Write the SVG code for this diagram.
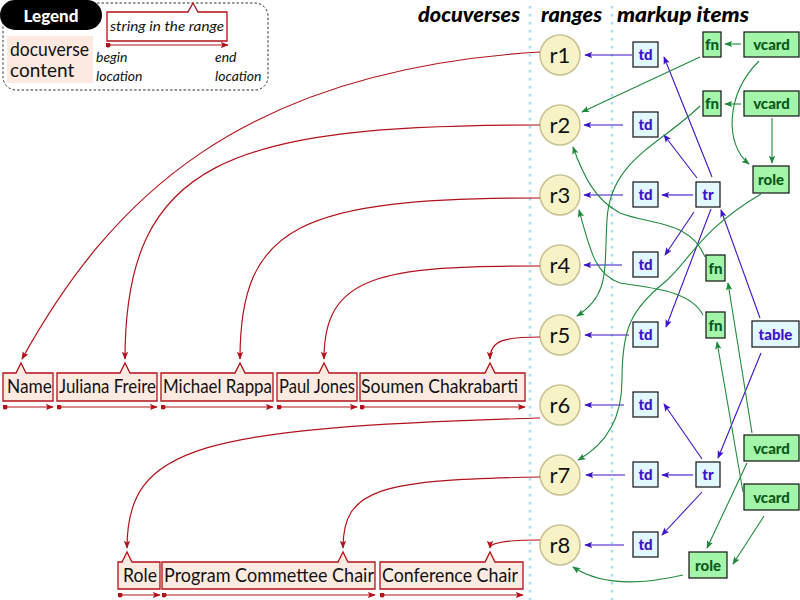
<svg xmlns="http://www.w3.org/2000/svg" width="800" height="600" viewBox="0 0 800 600">
<style>
.red{stroke:#b3121a;fill:none;stroke-width:1.2}
.blue{stroke:#3c14c8;fill:none;stroke-width:1.1}
.green{stroke:#1f8a3c;fill:none;stroke-width:1.1}
.seg{fill:#fdebe2;stroke:#b3121a;stroke-width:1.3}
.segt{font-family:Lato,"Open Sans",sans-serif;font-size:19px;fill:#111}
.rc{fill:#f8f3c6;stroke:#c9c191;stroke-width:1.5}
.rt{font-family:Lato,"Open Sans",sans-serif;font-size:22px;fill:#111;text-anchor:middle}
.bb{fill:#e2f8ff;stroke:#111;stroke-width:1.2}
.bt{font-family:Lato,"Open Sans",sans-serif;font-weight:900;font-size:15px;fill:#3c14c8;text-anchor:middle}
.gb{fill:#a3f5a9;stroke:#111;stroke-width:1.2}
.gt{font-family:Lato,"Open Sans",sans-serif;font-weight:900;font-size:15px;fill:#0b5a1c;text-anchor:middle}
.hd{font-family:Lato,"Open Sans",sans-serif;font-weight:900;font-style:italic;font-size:20px;fill:#000}
.it{font-family:Lato,"Open Sans",sans-serif;font-style:italic;font-size:14px;fill:#111}
.dot{stroke:#a9dcf2;stroke-width:2.5;stroke-dasharray:2.5 5.5;fill:none}
</style>
<defs>
<marker id="ar" viewBox="0 0 10 10" refX="9" refY="5" markerWidth="8" markerHeight="8" markerUnits="userSpaceOnUse" orient="auto"><path d="M0,1 L10,5 L0,9 L2,5 z" fill="#b3121a"/></marker>
<marker id="ab" viewBox="0 0 10 10" refX="9" refY="5" markerWidth="8" markerHeight="8" markerUnits="userSpaceOnUse" orient="auto"><path d="M0,1 L10,5 L0,9 L2,5 z" fill="#3c14c8"/></marker>
<marker id="ag" viewBox="0 0 10 10" refX="9" refY="5" markerWidth="8" markerHeight="8" markerUnits="userSpaceOnUse" orient="auto"><path d="M0,1 L10,5 L0,9 L2,5 z" fill="#1f8a3c"/></marker>
<marker id="dt" viewBox="0 0 6 6" refX="3" refY="3" markerWidth="5" markerHeight="5" markerUnits="userSpaceOnUse"><circle cx="3" cy="3" r="3" fill="#b3121a"/></marker>
</defs>
<rect width="800" height="600" fill="#fff"/>

<!-- dotted column separators -->
<line class="dot" x1="530" y1="6" x2="530" y2="600"/>
<line class="dot" x1="612" y1="6" x2="612" y2="600"/>

<!-- legend -->
<g id="legend">
<rect x="3" y="3" width="265" height="87" rx="13" fill="none" stroke="#333" stroke-width="1" stroke-dasharray="2.5 2"/>
<rect x="0" y="0" width="102" height="30" rx="15" fill="#000"/>
<text x="51" y="22" font-family="Lato,'Open Sans',sans-serif" font-weight="900" font-size="17" fill="#fff" text-anchor="middle">Legend</text>
<rect x="7" y="36" width="86" height="47" fill="#fde9df"/>
<text x="10" y="56" class="segt" textLength="79" lengthAdjust="spacingAndGlyphs">docuverse</text>
<text x="10" y="77" class="segt">content</text>
<path class="seg" d="M107,12 H188 L193,3 L198,12 H227 V41 H107 Z" style="fill:#fff"/>
<text x="110" y="31" class="it" textLength="114" lengthAdjust="spacingAndGlyphs">string in the range</text>
<line class="red" x1="108" y1="45" x2="228" y2="45" marker-start="url(#dt)" marker-end="url(#ar)"/>
<text x="96" y="62" class="it">begin</text>
<text x="96" y="81" class="it">location</text>
<text x="215" y="62" class="it">end</text>
<text x="215" y="81" class="it">location</text>
</g>

<!-- headers -->
<text x="418" y="22" class="hd" textLength="102" lengthAdjust="spacingAndGlyphs">docuverses</text>
<text x="541" y="22" class="hd" textLength="61" lengthAdjust="spacingAndGlyphs">ranges</text>
<text x="617" y="22" class="hd" textLength="132" lengthAdjust="spacingAndGlyphs">markup items</text>

<!-- docuverse segments -->
<g id="seg-name"><path class="seg" d="M3,373 H16 L21,363 L26,373 H53 V401 H3 Z"/><text x="7" y="393" class="segt" textLength="45" lengthAdjust="spacingAndGlyphs">Name</text></g>
<g id="seg-juliana"><path class="seg" d="M57,373 H120 L125,363 L130,373 H157 V401 H57 Z"/><text x="59" y="393" class="segt" textLength="97" lengthAdjust="spacingAndGlyphs">Juliana Freire</text></g>
<g id="seg-michael"><path class="seg" d="M161,373 H235 L240,363 L245,373 H273 V401 H161 Z"/><text x="163" y="393" class="segt" textLength="109" lengthAdjust="spacingAndGlyphs">Michael Rappa</text></g>
<g id="seg-paul"><path class="seg" d="M277,373 H319 L324,363 L329,373 H357 V401 H277 Z"/><text x="279" y="393" class="segt" textLength="76" lengthAdjust="spacingAndGlyphs">Paul Jones</text></g>
<g id="seg-soumen"><path class="seg" d="M360,373 H485 L490,363 L495,373 H525 V401 H360 Z"/><text x="361" y="393" class="segt" textLength="157" lengthAdjust="spacingAndGlyphs">Soumen Chakrabarti</text></g>
<g id="seg-role"><path class="seg" d="M118,562 H122 L127,552 L132,562 H160 V589 H118 Z"/><text x="123" y="582" class="segt" textLength="34" lengthAdjust="spacingAndGlyphs">Role</text></g>
<g id="seg-program"><path class="seg" d="M162,562 H338 L343,552 L348,562 H375 V589 H162 Z"/><text x="164" y="582" class="segt" textLength="210" lengthAdjust="spacingAndGlyphs">Program Commettee Chair</text></g>
<g id="seg-conference"><path class="seg" d="M380,562 H485 L490,552 L495,562 H523 V589 H380 Z"/><text x="382" y="582" class="segt" textLength="136" lengthAdjust="spacingAndGlyphs">Conference Chair</text></g>

<!-- range nodes -->
<g id="r1"><circle class="rc" cx="560" cy="55" r="20"/><text x="560" y="63" class="rt">r1</text></g>
<g id="r2"><circle class="rc" cx="560" cy="125" r="20"/><text x="560" y="133" class="rt">r2</text></g>
<g id="r3"><circle class="rc" cx="560" cy="195" r="20"/><text x="560" y="203" class="rt">r3</text></g>
<g id="r4"><circle class="rc" cx="560" cy="265" r="20"/><text x="560" y="273" class="rt">r4</text></g>
<g id="r5"><circle class="rc" cx="560" cy="335" r="20"/><text x="560" y="343" class="rt">r5</text></g>
<g id="r6"><circle class="rc" cx="560" cy="405" r="20"/><text x="560" y="413" class="rt">r6</text></g>
<g id="r7"><circle class="rc" cx="560" cy="475" r="20"/><text x="560" y="483" class="rt">r7</text></g>
<g id="r8"><circle class="rc" cx="560" cy="545" r="20"/><text x="560" y="553" class="rt">r8</text></g>

<!-- markup items -->
<g id="td1"><rect class="bb" x="633" y="42" width="25" height="25"/><text x="645.5" y="60" class="bt">td</text></g>
<g id="td2"><rect class="bb" x="633" y="112" width="25" height="25"/><text x="645.5" y="130" class="bt">td</text></g>
<g id="td3"><rect class="bb" x="633" y="182" width="25" height="25"/><text x="645.5" y="200" class="bt">td</text></g>
<g id="td4"><rect class="bb" x="633" y="252" width="25" height="25"/><text x="645.5" y="270" class="bt">td</text></g>
<g id="td5"><rect class="bb" x="633" y="322" width="25" height="25"/><text x="645.5" y="340" class="bt">td</text></g>
<g id="td6"><rect class="bb" x="633" y="392" width="25" height="25"/><text x="645.5" y="410" class="bt">td</text></g>
<g id="td7"><rect class="bb" x="633" y="462" width="25" height="25"/><text x="645.5" y="480" class="bt">td</text></g>
<g id="td8"><rect class="bb" x="633" y="532" width="25" height="25"/><text x="645.5" y="550" class="bt">td</text></g>
<g id="tr1"><rect class="bb" x="696" y="182" width="24" height="25"/><text x="708" y="200" class="bt">tr</text></g>
<g id="tr2"><rect class="bb" x="696" y="462" width="24" height="25"/><text x="708" y="480" class="bt">tr</text></g>
<g id="table"><rect class="bb" x="752" y="321" width="47" height="26"/><text x="775.5" y="339.5" class="bt">table</text></g>
<g id="fn1"><rect class="gb" x="703" y="32" width="18" height="25"/><text x="712" y="50" class="gt">fn</text></g>
<g id="fn2"><rect class="gb" x="703" y="91" width="18" height="25"/><text x="712" y="109" class="gt">fn</text></g>
<g id="fn3"><rect class="gb" x="706" y="255" width="19" height="26"/><text x="715.5" y="273.5" class="gt">fn</text></g>
<g id="fn4"><rect class="gb" x="706" y="312" width="19" height="26"/><text x="715.5" y="330.5" class="gt">fn</text></g>
<g id="vcard1"><rect class="gb" x="744" y="32" width="55" height="25"/><text x="771.5" y="50" class="gt">vcard</text></g>
<g id="vcard2"><rect class="gb" x="744" y="91" width="55" height="25"/><text x="771.5" y="109" class="gt">vcard</text></g>
<g id="vcard3"><rect class="gb" x="744" y="435" width="55" height="26"/><text x="771.5" y="453.5" class="gt">vcard</text></g>
<g id="vcard4"><rect class="gb" x="744" y="484" width="55" height="26"/><text x="771.5" y="502.5" class="gt">vcard</text></g>
<g id="role1"><rect class="gb" x="753" y="166" width="36" height="27"/><text x="771" y="185" class="gt">role</text></g>
<g id="role2"><rect class="gb" x="689" y="552" width="38" height="26"/><text x="708" y="570.5" class="gt">role</text></g>

<!-- connectors -->
<g id="connectors">
<!-- red: range to docuverse -->
<path class="red" marker-end="url(#ar)" d="M540,52 C240,70 110,200 22,359"/>
<path class="red" marker-end="url(#ar)" d="M540,125 C230,125 125,160 125,359"/>
<path class="red" marker-end="url(#ar)" d="M540,198 C300,198 240,225 240,359"/>
<path class="red" marker-end="url(#ar)" d="M540,266 C380,266 324,275 324,359"/>
<path class="red" marker-end="url(#ar)" d="M540,337 C505,337 490,340 490,359"/>
<path class="red" marker-end="url(#ar)" d="M540,418 C200,428 127,445 127,548"/>
<path class="red" marker-end="url(#ar)" d="M540,477 C380,480 343,488 343,548"/>
<path class="red" marker-end="url(#ar)" d="M540,540 C505,540 490,543 490,548"/>
<!-- extent arrows under segments -->
<line class="red" x1="5" y1="407" x2="53" y2="407" marker-start="url(#dt)" marker-end="url(#ar)"/>
<line class="red" x1="59" y1="407" x2="157" y2="407" marker-start="url(#dt)" marker-end="url(#ar)"/>
<line class="red" x1="163" y1="407" x2="273" y2="407" marker-start="url(#dt)" marker-end="url(#ar)"/>
<line class="red" x1="279" y1="407" x2="357" y2="407" marker-start="url(#dt)" marker-end="url(#ar)"/>
<line class="red" x1="362" y1="407" x2="525" y2="407" marker-start="url(#dt)" marker-end="url(#ar)"/>
<line class="red" x1="120" y1="595" x2="160" y2="595" marker-start="url(#dt)" marker-end="url(#ar)"/>
<line class="red" x1="164" y1="595" x2="375" y2="595" marker-start="url(#dt)" marker-end="url(#ar)"/>
<line class="red" x1="382" y1="595" x2="523" y2="595" marker-start="url(#dt)" marker-end="url(#ar)"/>
<!-- blue: td to ranges -->
<line class="blue" marker-end="url(#ab)" x1="632" y1="55" x2="585" y2="55"/>
<line class="blue" marker-end="url(#ab)" x1="623" y1="125" x2="584" y2="125"/>
<line class="blue" marker-end="url(#ab)" x1="623" y1="195" x2="584" y2="195"/>
<line class="blue" marker-end="url(#ab)" x1="622" y1="265" x2="584" y2="265"/>
<line class="blue" marker-end="url(#ab)" x1="629" y1="335" x2="585" y2="335"/>
<line class="blue" marker-end="url(#ab)" x1="624" y1="405" x2="585" y2="405"/>
<line class="blue" marker-end="url(#ab)" x1="625" y1="475" x2="586" y2="475"/>
<line class="blue" marker-end="url(#ab)" x1="624" y1="545" x2="585" y2="545"/>
<!-- blue: tr to td, table to tr -->
<line class="blue" marker-end="url(#ab)" x1="712" y1="177" x2="664" y2="57"/>
<line class="blue" marker-end="url(#ab)" x1="697" y1="178" x2="664" y2="135"/>
<line class="blue" marker-end="url(#ab)" x1="693" y1="195" x2="662" y2="195"/>
<line class="blue" marker-end="url(#ab)" x1="694" y1="212" x2="665" y2="255"/>
<line class="blue" marker-end="url(#ab)" x1="711" y1="209" x2="666" y2="327"/>
<line class="blue" marker-end="url(#ab)" x1="760" y1="318" x2="721" y2="210"/>
<line class="blue" marker-end="url(#ab)" x1="761" y1="353" x2="718" y2="458"/>
<line class="blue" marker-end="url(#ab)" x1="702" y1="459" x2="664" y2="404"/>
<line class="blue" marker-end="url(#ab)" x1="693" y1="475" x2="662" y2="475"/>
<line class="blue" marker-end="url(#ab)" x1="702" y1="492" x2="662" y2="535"/>
<!-- green -->
<line class="green" marker-end="url(#ag)" x1="741" y1="44" x2="725" y2="44"/>
<line class="green" marker-end="url(#ag)" x1="741" y1="104" x2="725" y2="104"/>
<line class="green" marker-end="url(#ag)" x1="700" y1="57" x2="582" y2="112"/>
<path class="green" marker-end="url(#ag)" d="M759,61 C725,95 725,145 749,164"/>
<line class="green" marker-end="url(#ag)" x1="772" y1="118" x2="772" y2="163"/>
<path class="green" marker-end="url(#ag)" d="M700,106 C660,145 610,160 607,220 C604,270 610,295 577,316"/>
<path class="green" marker-end="url(#ag)" d="M705,257 C690,220 650,225 620,213 C595,200 583,175 573,147"/>
<path class="green" marker-end="url(#ag)" d="M703,315 C690,290 650,288 620,283 C595,275 590,250 579,210"/>
<path class="green" marker-end="url(#ag)" d="M761,194 C700,230 690,260 665,282 C630,310 622,330 622,380 C622,420 605,445 578,460"/>
<line class="green" marker-end="url(#ag)" x1="752" y1="433" x2="728" y2="283"/>
<line class="green" marker-end="url(#ag)" x1="743" y1="492" x2="717" y2="342"/>
<line class="green" marker-end="url(#ag)" x1="747" y1="463" x2="707" y2="548"/>
<line class="green" marker-end="url(#ag)" x1="764" y1="516" x2="733" y2="564"/>
<path class="green" marker-end="url(#ag)" d="M683,575 C640,585 600,585 573,567"/>
</g>
</svg>
